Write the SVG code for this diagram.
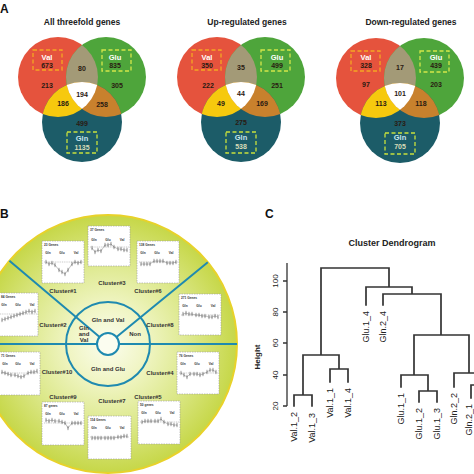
<svg xmlns="http://www.w3.org/2000/svg" width="474" height="474" viewBox="0 0 474 474">
<style>
text{font-family:"Liberation Sans",Arial,Helvetica,sans-serif}
.pl{font-size:12px;font-weight:bold;fill:#111}
.ttl{font-size:8.5px;font-weight:bold;fill:#222;text-anchor:middle}
.n{font-size:7px;font-weight:bold;fill:#2a1a12;text-anchor:middle}
.nl{font-size:7px;font-weight:bold;fill:#d8dcb8;text-anchor:middle}
.lw{font-size:7.5px;font-weight:bold;fill:#fff;text-anchor:middle}
.lc{font-size:7.5px;font-weight:bold;fill:#c8e6f0;text-anchor:middle}
.db{fill:none;stroke-width:1.3;stroke-dasharray:4 2.5}
.cl{font-size:6px;font-weight:bold;fill:#333;text-anchor:middle}
.hd{font-size:3.2px;font-weight:bold;fill:#333}
.gl{font-size:3.2px;font-weight:bold;fill:#333;text-anchor:middle}
.bx{fill:#fff;stroke:#9a9a9a;stroke-width:0.6;stroke-dasharray:1.5 1}
.bl{stroke:#777;stroke-width:0.4;stroke-dasharray:1 0.8}
.ln{fill:none;stroke:#666;stroke-width:0.4;marker-start:url(#eb);marker-mid:url(#eb);marker-end:url(#eb)}
.tl{stroke:#1f8ab0;stroke-width:2;fill:none}
.dg{stroke:#333;stroke-width:1.7;fill:none;stroke-linecap:square}
.lf{font-size:9px;fill:#222;text-anchor:end}
.tk{font-size:8px;fill:#222;text-anchor:middle}
</style>
<defs>
<clipPath id="kR"><circle cx="-24" cy="-15" r="40"/></clipPath>
<clipPath id="kG"><circle cx="24" cy="-15" r="40"/></clipPath>
<clipPath id="kRG"><circle cx="24" cy="-15" r="40" clip-path="url(#kR)"/></clipPath>
<g id="venn">
<circle cx="-24" cy="-15" r="40" fill="#e5533d"/>
<circle cx="24" cy="-15" r="40" fill="#4ea53b"/>
<circle cx="0" cy="30" r="40" fill="#1c5c68"/>
<circle cx="24" cy="-15" r="40" fill="#a39a77" clip-path="url(#kR)"/>
<circle cx="0" cy="30" r="40" fill="#f6c90e" clip-path="url(#kR)"/>
<circle cx="0" cy="30" r="40" fill="#c8812d" clip-path="url(#kG)"/>
<circle cx="0" cy="30" r="40" fill="#ffffff" clip-path="url(#kRG)"/>
<rect class="db" x="-49" y="-42" width="29" height="20" stroke="#f5a623"/>
<rect class="db" x="20" y="-42" width="29" height="21" stroke="#d4e64a"/>
<rect class="db" x="-15" y="40" width="30" height="21" stroke="#c8e03c"/>
</g>
<radialGradient id="bg" gradientUnits="userSpaceOnUse" cx="108" cy="344" r="129">
<stop offset="0" stop-color="#fbfdee"/>
<stop offset="0.3" stop-color="#f0f5c4"/>
<stop offset="0.65" stop-color="#dce88a"/>
<stop offset="1" stop-color="#c6d748"/>
</radialGradient>
<marker id="eb" markerUnits="userSpaceOnUse" markerWidth="3" markerHeight="5" refX="1.5" refY="2.5" orient="0" overflow="visible">
<path d="M1.5 0.8V4.2M0.9 0.8H2.1M0.9 4.2H2.1" stroke="#444" stroke-width="0.35" fill="none"/>
<circle cx="1.5" cy="2.5" r="0.5" fill="#444"/>
</marker>
</defs>
<rect width="474" height="474" fill="#fff"/>

<g id="panelA">
<text class="pl" x="0" y="13">A</text>
<g id="venn1" transform="translate(82,92)">
<text class="ttl" x="0" y="-67">All threefold genes</text>
<use href="#venn"/>
<text class="lw" x="-35" y="-32.5">Val</text>
<text class="n" x="-35" y="-24.5">673</text>
<text class="n" x="0" y="-21.5">80</text>
<text class="lw" x="33" y="-32.5">Glu</text>
<text class="n" x="33" y="-24.5">835</text>
<text class="n" x="-35" y="-4.5">213</text>
<text class="n" x="35" y="-4.5">305</text>
<text class="n" x="0" y="4.5">194</text>
<text class="n" x="-19" y="13.5">186</text>
<text class="n" x="20" y="14.5">258</text>
<text class="n" x="0" y="33.5">499</text>
<text class="lc" x="0" y="48.5">Gln</text>
<text class="nl" x="0" y="57.5">1135</text>
</g>
<g id="venn2" transform="translate(241,92)">
<text class="ttl" x="6" y="-67">Up-regulated genes</text>
<use href="#venn"/>
<text class="lw" x="-34" y="-32.5">Val</text>
<text class="n" x="-34" y="-24.5">350</text>
<text class="n" x="0" y="-22.5">35</text>
<text class="lw" x="36" y="-32.5">Glu</text>
<text class="n" x="36" y="-24.5">499</text>
<text class="n" x="-33" y="-4.5">222</text>
<text class="n" x="36" y="-4.5">251</text>
<text class="n" x="0" y="3.5">44</text>
<text class="n" x="-20" y="13.5">49</text>
<text class="n" x="21" y="13.5">169</text>
<text class="n" x="0" y="32.5">275</text>
<text class="lc" x="0" y="47.5">Gln</text>
<text class="nl" x="0" y="56.5">538</text>
</g>
<g id="venn3" transform="translate(400,93)">
<text class="ttl" x="11" y="-68">Down-regulated genes</text>
<use href="#venn"/>
<text class="lw" x="-34" y="-33.5">Val</text>
<text class="n" x="-34" y="-25.5">328</text>
<text class="n" x="0" y="-23.5">17</text>
<text class="lw" x="36" y="-33.5">Glu</text>
<text class="n" x="36" y="-25.5">439</text>
<text class="n" x="-34" y="-6.5">97</text>
<text class="n" x="36" y="-6.5">203</text>
<text class="n" x="0" y="2.5">101</text>
<text class="n" x="-19" y="12.5">113</text>
<text class="n" x="21" y="12.5">118</text>
<text class="n" x="0" y="32.5">373</text>
<text class="lc" x="0" y="46.5">Gln</text>
<text class="nl" x="0" y="55.5">705</text>
</g>
</g>

<g id="panelB">
<circle cx="108" cy="344" r="129" fill="url(#bg)" stroke="#e8d22a" stroke-width="2"/>
<g id="connectors-B">
<circle class="tl" cx="108" cy="344" r="42"/>
<circle cx="108" cy="344" r="11" fill="#fbfdf0" stroke="#1f8ab0" stroke-width="2"/>
<path class="tl" d="M99.6 336.9L9.4 260.8M116.5 337L207.8 262.3M97 344H-25M119 344H237"/>
</g>
<text class="pl" x="0" y="218">B</text>
<text class="cl" x="108" y="322">Gln and Val</text>
<text class="cl" x="84" y="330">Gln</text>
<text class="cl" x="84" y="336">and</text>
<text class="cl" x="84" y="342">Val</text>
<text class="cl" x="135" y="336">Non</text>
<text class="cl" x="108" y="371">Gln and Glu</text>

<g id="cluster1">
<text class="cl" x="63" y="293">Cluster#1</text>
<g transform="translate(42,241)"><rect class="bx" width="42" height="42"/><text class="hd" x="2" y="5">23 Genes</text><text class="gl" x="6" y="13">Gln</text><text class="gl" x="20" y="13">Glu</text><text class="gl" x="34" y="13">Val</text><path class="bl" d="M2 21H41"/><polyline class="ln" points="4,21 7,23 10,22 13,24 17,29 20,31 23,33 26,29 30,23 33,21 36,22 39,21"/></g>
</g>
<g id="cluster3">
<text class="cl" x="112" y="285">Cluster#3</text>
<g transform="translate(88,226)"><rect class="bx" width="42" height="40"/><text class="hd" x="2" y="5">37 Genes</text><text class="gl" x="6" y="15">Gln</text><text class="gl" x="20" y="15">Glu</text><text class="gl" x="34" y="15">Val</text><path class="bl" d="M2 21H41"/><polyline class="ln" points="4,22 7,26 10,24 13,25 17,19 20,19 23,18 26,21 30,23 33,23 36,24 39,24"/></g>
</g>
<g id="cluster6">
<text class="cl" x="148" y="293">Cluster#6</text>
<g transform="translate(137,241)"><rect class="bx" width="42" height="42"/><text class="hd" x="2" y="5">138 Genes</text><text class="gl" x="6" y="13">Gln</text><text class="gl" x="20" y="13">Glu</text><text class="gl" x="34" y="13">Val</text><path class="bl" d="M2 21H41"/><polyline class="ln" points="4,23 7,23 10,23 13,23 17,20 20,20 23,20 26,20 30,22 33,22 36,22 39,21"/></g>
</g>
<g id="cluster2">
<text class="cl" x="53" y="327">Cluster#2</text>
<g transform="translate(-4,293)"><rect class="bx" width="42" height="43"/><text class="hd" x="5" y="5">84 Genes</text><text class="gl" x="8" y="13">Gln</text><text class="gl" x="22" y="13">Glu</text><text class="gl" x="36" y="13">Val</text><path class="bl" d="M4 21H41"/><polyline class="ln" points="6,27 9,26 12,25 15,24 18,23 21,22 24,21 27,20 30,19 33,18 36,19 39,18"/></g>
</g>
<g id="cluster8">
<text class="cl" x="160" y="327">Cluster#8</text>
<g transform="translate(179,294)"><rect class="bx" width="42" height="41"/><text class="hd" x="2" y="5">271 Genes</text><text class="gl" x="6" y="13">Gln</text><text class="gl" x="20" y="13">Glu</text><text class="gl" x="34" y="13">Val</text><path class="bl" d="M2 21H41"/><polyline class="ln" points="4,20 7,19 10,20 13,20 17,21 20,21 23,22 26,22 30,23 33,23 36,22 39,23"/></g>
</g>
<g id="cluster10">
<text class="cl" x="57" y="374">Cluster#10</text>
<g transform="translate(-2,352)"><rect class="bx" width="42" height="43"/><text class="hd" x="3" y="5">71 Genes</text><text class="gl" x="7" y="13">Gln</text><text class="gl" x="20" y="13">Glu</text><text class="gl" x="34" y="13">Val</text><path class="bl" d="M3 21H41"/><polyline class="ln" points="4,20 7,21 10,22 13,23 17,23 20,24 23,25 26,24 30,21 33,20 36,20 39,19"/></g>
</g>
<g id="cluster4">
<text class="cl" x="160" y="375">Cluster#4</text>
<g transform="translate(177,352)"><rect class="bx" width="42" height="42"/><text class="hd" x="2" y="5">76 Genes</text><text class="gl" x="6" y="13">Gln</text><text class="gl" x="20" y="13">Glu</text><text class="gl" x="34" y="13">Val</text><path class="bl" d="M2 21H41"/><polyline class="ln" points="4,21 7,23 10,25 13,22 17,22 20,22 23,23 26,22 30,20 33,18 36,18 39,20"/></g>
</g>
<g id="cluster9">
<text class="cl" x="63" y="399">Cluster#9</text>
<g transform="translate(42,402)"><rect class="bx" width="42" height="43"/><text class="hd" x="2" y="5">87 genes</text><text class="gl" x="6" y="13">Gln</text><text class="gl" x="20" y="13">Glu</text><text class="gl" x="34" y="13">Val</text><path class="bl" d="M2 21H41"/><polyline class="ln" points="4,18 7,19 10,18 13,19 17,19 20,20 23,21 26,26 30,21 33,21 36,21 39,21"/></g>
</g>
<g id="cluster7">
<text class="cl" x="112" y="403">Cluster#7</text>
<g transform="translate(88,416)"><rect class="bx" width="43" height="43"/><text class="hd" x="2" y="5">114 Genes</text><text class="gl" x="6" y="13">Gln</text><text class="gl" x="20" y="13">Glu</text><text class="gl" x="34" y="13">Val</text><path class="bl" d="M2 21H41"/><polyline class="ln" points="4,22 7,22 10,22 13,22 17,22 20,22 23,22 26,22 30,21 33,21 36,20 39,20"/></g>
</g>
<g id="cluster5">
<text class="cl" x="148" y="399">Cluster#5</text>
<g transform="translate(138,401)"><rect class="bx" width="42" height="43"/><text class="hd" x="2" y="5">50 genes</text><text class="gl" x="6" y="13">Gln</text><text class="gl" x="20" y="13">Glu</text><text class="gl" x="34" y="13">Val</text><path class="bl" d="M2 21H41"/><polyline class="ln" points="4,21 7,20 10,20 13,20 17,20 20,20 23,18 26,21 30,23 33,23 36,24 39,24"/></g>
</g>
</g>

<g id="panelC">
<text class="pl" x="265" y="218" font-size="11">C</text>
<text x="392" y="246" font-size="9" font-weight="bold" fill="#222" text-anchor="middle">Cluster Dendrogram</text>
<g id="axis">
<path d="M287 263V406M283 281H287M283 312H287M283 343H287M283 375H287M283 406H287" stroke="#333" stroke-width="1.3" fill="none"/>
<text class="tk" transform="translate(277.5,281) rotate(-90)">100</text>
<text class="tk" transform="translate(277.5,312) rotate(-90)">80</text>
<text class="tk" transform="translate(277.5,343) rotate(-90)">60</text>
<text class="tk" transform="translate(277.5,375) rotate(-90)">40</text>
<text class="tk" transform="translate(277.5,406) rotate(-90)">20</text>
<text transform="translate(260,357) rotate(-90)" font-size="8" font-weight="bold" fill="#222" text-anchor="middle">Height</text>
</g>
<g id="connectors-C">
<path class="dg" d="M294 395V406M312 395V406M294 395H312M303 395V355M330 369V382M348 369V382M330 369H348M339 369V355M303 355H339M321 355V268M321 268H389M389 268V287M366 287H412M366 287V305M412 287V294M383 294H441M383 294V305M441 294V335M414 335H469M414 335V375M401 375H428M401 375V387M428 375V391M419 391H437M419 391V402M437 391V402M469 335V373M454 373H481M454 373V387M471 385H490M471 385V398"/>
</g>
<g id="leaves">
<text class="lf" transform="translate(297,412) rotate(-90)">Val.1_2</text>
<text class="lf" transform="translate(315,413) rotate(-90)">Val.1_3</text>
<text class="lf" transform="translate(333,388) rotate(-90)">Val.1_1</text>
<text class="lf" transform="translate(351,388) rotate(-90)">Val.1_4</text>
<text class="lf" transform="translate(369,311) rotate(-90)">Glu.1_4</text>
<text class="lf" transform="translate(386,311) rotate(-90)">Gln.2_4</text>
<text class="lf" transform="translate(404,393) rotate(-90)">Glu.1_1</text>
<text class="lf" transform="translate(422,408) rotate(-90)">Glu.1_2</text>
<text class="lf" transform="translate(440,408) rotate(-90)">Glu.1_3</text>
<text class="lf" transform="translate(457,393) rotate(-90)">Gln.2_2</text>
<text class="lf" transform="translate(471.5,404) rotate(-90)">Gln.2_1</text>
</g>
</g>
</svg>
